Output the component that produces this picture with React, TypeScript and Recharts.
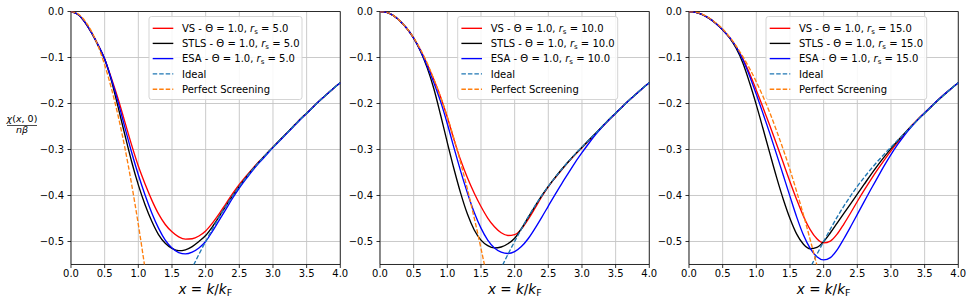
import React from "react";
import { LineChart, Line, XAxis, YAxis, CartesianGrid, ReferenceArea } from "recharts";

// ---------- data ----------
const X = [0, 0.1, 0.2, 0.3, 0.4, 0.5, 0.6, 0.7, 0.8, 0.9, 1.0, 1.1, 1.2, 1.3, 1.4, 1.5, 1.6, 1.7, 1.8, 1.9, 2.0,
  2.1, 2.2, 2.3, 2.4, 2.5, 2.6, 2.7, 2.8, 2.9, 3.0, 3.1, 3.2, 3.3, 3.4, 3.5, 3.6, 3.7, 3.8, 3.9, 4.0];

const N = null;

const IDEAL = [N, N, N, N, N, N, N, N, N, N, N, N, N, N, N, N, N,
  -0.59, -0.558, -0.528, -0.5,
  -0.473, -0.447, -0.423, -0.401, -0.38, -0.361, -0.343, -0.326, -0.31, -0.295,
  -0.28, -0.265, -0.25, -0.235, -0.221, -0.207, -0.193, -0.18, -0.167, -0.155];

// r_s = 5.0
const VS_5 = [0, -0.006, -0.022, -0.045, -0.072, -0.103, -0.145, -0.19, -0.24, -0.29, -0.336,
  -0.375, -0.41, -0.44, -0.463, -0.479, -0.49, -0.495, -0.494, -0.488, -0.477,
  -0.46, -0.44, -0.418, -0.396, -0.376, -0.358, -0.341, -0.325, -0.31, -0.295,
  -0.28, -0.265, -0.25, -0.235, -0.221, -0.207, -0.193, -0.18, -0.167, -0.155];
const STLS_5 = [0, -0.006, -0.022, -0.045, -0.073, -0.104, -0.15, -0.208, -0.268, -0.326, -0.377,
  -0.42, -0.456, -0.485, -0.504, -0.515, -0.52, -0.518, -0.511, -0.5, -0.487,
  -0.468, -0.446, -0.423, -0.401, -0.38, -0.361, -0.343, -0.326, -0.31, -0.295,
  -0.28, -0.265, -0.25, -0.235, -0.221, -0.207, -0.193, -0.18, -0.167, -0.155];
const ESA_5 = [0, -0.006, -0.022, -0.045, -0.072, -0.103, -0.147, -0.197, -0.252, -0.306, -0.355,
  -0.399, -0.438, -0.471, -0.497, -0.514, -0.524, -0.527, -0.523, -0.514, -0.5,
  -0.478, -0.454, -0.43, -0.406, -0.384, -0.364, -0.345, -0.328, -0.312, -0.296,
  -0.281, -0.266, -0.251, -0.236, -0.222, -0.207, -0.193, -0.18, -0.167, -0.155];
const PS_5 = [0, -0.005, -0.019, -0.042, -0.074, -0.116, -0.167, -0.227, -0.296, -0.375, -0.463,
  -0.56, -0.667, N, N, N, N, N, N, N, N,
  N, N, N, N, N, N, N, N, N, N,
  N, N, N, N, N, N, N, N, N, N];

// r_s = 10.0
const VS_10 = [0, -0.002, -0.009, -0.021, -0.037, -0.058, -0.084, -0.114, -0.148, -0.186, -0.23,
  -0.279, -0.324, -0.362, -0.395, -0.424, -0.449, -0.468, -0.481, -0.487, -0.485,
  -0.473, -0.452, -0.428, -0.403, -0.381, -0.362, -0.344, -0.327, -0.311, -0.296,
  -0.281, -0.266, -0.251, -0.236, -0.221, -0.207, -0.193, -0.18, -0.167, -0.155];
const STLS_10 = [0, -0.002, -0.009, -0.021, -0.037, -0.058, -0.086, -0.122, -0.168, -0.225, -0.285,
  -0.343, -0.396, -0.441, -0.475, -0.497, -0.509, -0.514, -0.512, -0.505, -0.493,
  -0.472, -0.448, -0.424, -0.401, -0.38, -0.361, -0.343, -0.326, -0.31, -0.295,
  -0.28, -0.265, -0.25, -0.235, -0.221, -0.207, -0.193, -0.18, -0.167, -0.155];
const ESA_10 = [0, -0.002, -0.009, -0.021, -0.037, -0.058, -0.085, -0.118, -0.155, -0.196, -0.244,
  -0.297, -0.348, -0.395, -0.437, -0.471, -0.497, -0.514, -0.523, -0.526, -0.522,
  -0.511, -0.494, -0.472, -0.448, -0.423, -0.398, -0.374, -0.351, -0.328, -0.307,
  -0.287, -0.268, -0.251, -0.236, -0.221, -0.207, -0.193, -0.18, -0.167, -0.155];
const PS_10 = [0, -0.002, -0.009, -0.021, -0.037, -0.057, -0.082, -0.112, -0.147, -0.186, -0.229,
  -0.277, -0.33, -0.387, -0.449, -0.515, -0.586, -0.662, N, N, N,
  N, N, N, N, N, N, N, N, N, N,
  N, N, N, N, N, N, N, N, N, N];

// r_s = 15.0
const VS_15 = [0, -0.002, -0.007, -0.015, -0.026, -0.04, -0.056, -0.077, -0.103, -0.135, -0.171,
  -0.209, -0.248, -0.288, -0.329, -0.37, -0.409, -0.445, -0.474, -0.494, -0.503,
  -0.499, -0.484, -0.462, -0.438, -0.413, -0.389, -0.366, -0.344, -0.323, -0.303,
  -0.284, -0.266, -0.249, -0.234, -0.22, -0.206, -0.192, -0.179, -0.167, -0.155];
const STLS_15 = [0, -0.002, -0.007, -0.015, -0.026, -0.04, -0.057, -0.08, -0.112, -0.155, -0.203,
  -0.255, -0.308, -0.36, -0.408, -0.45, -0.484, -0.506, -0.516, -0.513, -0.5,
  -0.481, -0.46, -0.439, -0.418, -0.397, -0.376, -0.355, -0.335, -0.316, -0.298,
  -0.281, -0.265, -0.25, -0.235, -0.221, -0.207, -0.193, -0.18, -0.167, -0.155];
const ESA_15 = [0, -0.002, -0.007, -0.015, -0.026, -0.04, -0.056, -0.077, -0.105, -0.14, -0.18,
  -0.222, -0.265, -0.31, -0.356, -0.402, -0.447, -0.486, -0.515, -0.533, -0.54,
  -0.535, -0.518, -0.494, -0.468, -0.441, -0.414, -0.387, -0.361, -0.335, -0.311,
  -0.289, -0.269, -0.251, -0.235, -0.22, -0.206, -0.192, -0.179, -0.167, -0.155];
const PS_15 = [0, -0.0015, -0.006, -0.014, -0.025, -0.038, -0.055, -0.075, -0.098, -0.124, -0.153,
  -0.185, -0.22, -0.259, -0.3, -0.344, -0.392, -0.442, -0.496, -0.552, -0.612,
  N, N, N, N, N, N, N, N, N, N,
  N, N, N, N, N, N, N, N, N, N];

const RS_LABELS = ["5.0", "10.0", "15.0"];
const THETA_LABEL = "1.0";
const VS_SERIES = [VS_5, VS_10, VS_15];
const STLS_SERIES = [STLS_5, STLS_10, STLS_15];
const ESA_SERIES = [ESA_5, ESA_10, ESA_15];
const PS_SERIES = [PS_5, PS_10, PS_15];

const X_TICKS = [0, 0.5, 1, 1.5, 2, 2.5, 3, 3.5, 4];
const Y_TICKS = [0, -0.1, -0.2, -0.3, -0.4, -0.5];

// ---------- layout / style ----------
const FONT = "DejaVu Sans";
const PLOT_LEFT = [70.7, 380.2, 689];
const PLOT_W = 269.3;
const YAXIS_W = 45;
const RIGHT_M = 14;
const LEGEND_LEFT = [149, 457.7, 766];
const LEGEND_W = [153, 160, 160.7];
const LEGEND_TOP = 16.5;
const LEGEND_H = 83;

const STYLES = [
  { key: "vs", name: "VS", color: "#ff0000", dash: undefined },
  { key: "stls", name: "STLS", color: "#000000", dash: undefined },
  { key: "esa", name: "ESA", color: "#0000ff", dash: undefined },
  { key: "ideal", name: "Ideal", color: "#1f77b4", dash: "4.5 2" },
  { key: "ps", name: "Perfect Screening", color: "#ff7f0e", dash: "4.5 2" },
];

const fmtY = (v: number) => (v === 0 ? "0.0" : "\u2212" + Math.abs(v).toFixed(1));
const fmtX = (v: number) => v.toFixed(1);

function Panel({ idx }: { idx: number }) {
  const data = X.map((x, i) => ({
    x,
    vs: VS_SERIES[idx][i],
    stls: STLS_SERIES[idx][i],
    esa: ESA_SERIES[idx][i],
    ideal: IDEAL[i],
    ps: PS_SERIES[idx][i],
  }));
  const tickStyle = { fontSize: 10, fill: "#000", fontFamily: FONT };
  return (
    <div style={{ position: "absolute", left: PLOT_LEFT[idx] - YAXIS_W, top: 0 }}>
      <LineChart
        width={YAXIS_W + PLOT_W + RIGHT_M}
        height={303}
        data={data}
        margin={{ top: 11.5, right: RIGHT_M, bottom: 14.5, left: 0 }}
      >
        <CartesianGrid stroke="#c4c4c4" strokeWidth={0.9} />
        <XAxis
          dataKey="x"
          type="number"
          domain={[0, 4]}
          ticks={X_TICKS}
          interval={0}
          tickFormatter={fmtX}
          axisLine={false}
          tickLine={{ stroke: "#000", strokeWidth: 0.8 }}
          tickSize={3.5}
          tickMargin={2}
          height={24}
          tick={tickStyle}
        />
        <YAxis
          type="number"
          domain={[-0.55, 0]}
          allowDataOverflow
          ticks={Y_TICKS}
          interval={0}
          tickFormatter={fmtY}
          axisLine={false}
          tickLine={{ stroke: "#000", strokeWidth: 0.8 }}
          tickSize={3.5}
          tickMargin={3.5}
          width={YAXIS_W}
          tick={tickStyle}
        />
        {STYLES.map((s) => (
          <Line
            key={s.key}
            dataKey={s.key}
            name={s.name}
            type="monotone"
            stroke={s.color}
            strokeWidth={1.35}
            strokeDasharray={s.dash}
            dot={false}
            activeDot={false}
            isAnimationActive={false}
          />
        ))}
        <ReferenceArea
          x1={0}
          x2={4}
          y1={-0.55}
          y2={0}
          fill="none"
          fillOpacity={0}
          stroke="#1a1a1a"
          strokeWidth={0.9}
          ifOverflow="visible"
        />
      </LineChart>
    </div>
  );
}

function LegendBox({ idx }: { idx: number }) {
  const left = LEGEND_LEFT[idx];
  const rows = [28.3, 43.4, 58.6, 73.9, 89.2];
  return (
    <g>
      <rect
        x={left}
        y={LEGEND_TOP}
        width={LEGEND_W[idx]}
        height={LEGEND_H}
        rx={2.5}
        fill="rgba(255,255,255,0.85)"
        stroke="#d0d0d0"
        strokeWidth={0.9}
      />
      {STYLES.map((s, i) => (
        <g key={s.key}>
          <line
            x1={left + 3.7}
            x2={left + 24.3}
            y1={rows[i]}
            y2={rows[i]}
            stroke={s.color}
            strokeWidth={1.35}
            strokeDasharray={s.dash}
          />
          <text x={left + 33} y={rows[i] + 3.6} fontFamily={FONT} fontSize={10} fill="#000">
            {i < 3 ? (
              <>
                <tspan>{s.name + " - \u0398 = " + THETA_LABEL + ", "}</tspan>
                <tspan fontStyle="italic">r</tspan>
                <tspan dy={2} fontSize={7}>s</tspan>
                <tspan dy={-2}>{" = " + RS_LABELS[idx]}</tspan>
              </>
            ) : (
              s.name
            )}
          </text>
        </g>
      ))}
    </g>
  );
}

function Overlay() {
  return (
    <svg
      width={969}
      height={303}
      style={{ position: "absolute", left: 0, top: 0, pointerEvents: "none" }}
    >
      {[0, 1, 2].map((i) => (
        <LegendBox key={"lg" + i} idx={i} />
      ))}
      {[0, 1, 2].map((i) => (
        <text
          key={"xl" + i}
          x={PLOT_LEFT[i] + PLOT_W / 2}
          y={293.5}
          textAnchor="middle"
          fontFamily={FONT}
          fontSize={13.5}
          fill="#000"
        >
          <tspan fontStyle="italic">x</tspan>
          <tspan>{" = "}</tspan>
          <tspan fontStyle="italic">k</tspan>
          <tspan>/</tspan>
          <tspan fontStyle="italic">k</tspan>
          <tspan dy={2.5} fontSize={9.5}>F</tspan>
        </text>
      ))}
      <text x={22} y={121.5} textAnchor="middle" fontFamily={FONT} fontSize={9.5} fill="#000">
        <tspan fontStyle="italic">{"\u03C7"}</tspan>
        <tspan>(</tspan>
        <tspan fontStyle="italic">x</tspan>
        <tspan>{", 0)"}</tspan>
      </text>
      <line x1={7} x2={37} y1={125.5} y2={125.5} stroke="#000" strokeWidth={0.7} />
      <text x={22} y={133} textAnchor="middle" fontFamily={FONT} fontSize={9.5} fill="#000">
        <tspan fontStyle="italic">{"n\u03B2"}</tspan>
      </text>
    </svg>
  );
}

export default function App() {
  return (
    <div
      style={{
        position: "absolute",
        left: 0,
        top: 0,
        width: 969,
        height: 303,
        background: "#fff",
        overflow: "hidden",
      }}
    >
      <Panel idx={0} />
      <Panel idx={1} />
      <Panel idx={2} />
      <Overlay />
    </div>
  );
}
